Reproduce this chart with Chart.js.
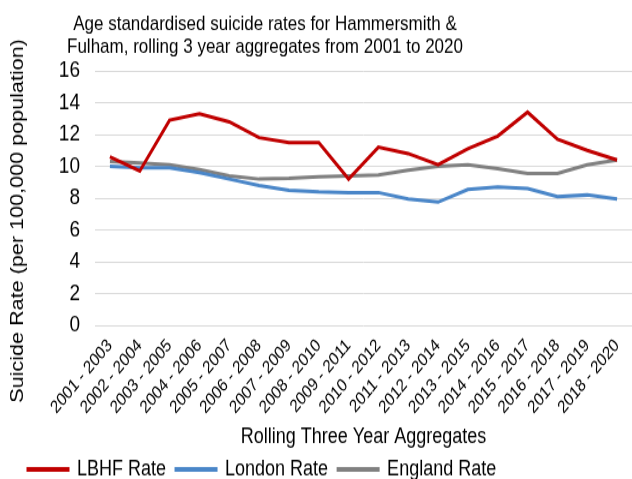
<!DOCTYPE html>
<html>
<head>
<meta charset="utf-8">
<script src="https://cdn.jsdelivr.net/npm/chart.js@4/dist/chart.umd.min.js"></script>
<style>
  html, body { margin: 0; padding: 0; background: #fff; overflow: hidden; }
  #myChart { display: block; }
</style>
</head>
<body>
<canvas id="myChart" width="632" height="399"></canvas>
<script>
const periods = [
    '2001 - 2003', '2002 - 2004', '2003 - 2005', '2004 - 2006', '2005 - 2007', '2006 - 2008',
    '2007 - 2009', '2008 - 2010', '2009 - 2011', '2010 - 2012', '2011 - 2013', '2012 - 2014',
    '2013 - 2015', '2014 - 2016', '2015 - 2017', '2016 - 2018', '2017 - 2019', '2018 - 2020'
];
const lbhfRate = [10.6, 9.7, 12.9, 13.3, 12.8, 11.8, 11.5, 11.5, 9.2, 11.2, 10.8, 10.1, 11.1, 11.9, 13.4, 11.7, 11.0, 10.4];
const londonRate = [10.0, 9.9, 9.9, 9.6, 9.2, 8.8, 8.5, 8.4, 8.35, 8.35, 7.95, 7.75, 8.55, 8.7, 8.6, 8.1, 8.2, 7.95];
const englandRate = [10.3, 10.2, 10.1, 9.8, 9.4, 9.2, 9.25, 9.35, 9.4, 9.45, 9.75, 10.0, 10.1, 9.85, 9.55, 9.55, 10.1, 10.4];
const yTicks = [0, 2, 4, 6, 8, 10, 12, 14, 16];

const font = 'Arial, "Liberation Sans", sans-serif';
const titleLines = ['Age standardised suicide rates for Hammersmith &', 'Fulham, rolling 3 year aggregates from 2001 to 2020'];
const yTitle = 'Suicide Rate (per 100,000 population)';

const series = [
    { label: 'LBHF Rate', data: lbhfRate, color: '#C00000' },
    { label: 'London Rate', data: londonRate, color: '#4A86C8' },
    { label: 'England Rate', data: englandRate, color: '#808080' },
];

// chart title and y axis title sit off-centre in the original, so draw them here
const titlesPlugin = {
    id: 'titles',
    afterDraw(chart) {
        const c = chart.ctx;
        c.save();
        c.fillStyle = '#000';
        c.textAlign = 'center';
        c.textBaseline = 'middle';
        c.font = '17px ' + font;
        titleLines.forEach((line, i) => c.fillText(line, 265, 20 + i * 19.2));
        c.translate(18, 184);
        c.rotate(-Math.PI / 2);
        c.font = '18px ' + font;
        c.fillText(yTitle, 0, 0);
        c.restore();
    }
};

const canvas = /** @type {HTMLCanvasElement} */ (document.getElementById('myChart'));
const ctx = canvas.getContext('2d');

new Chart(ctx, {
    type: 'line',
    data: {
        labels: periods,
        datasets: series.map(s => ({
            label: s.label,
            data: s.data,
            borderColor: s.color,
            backgroundColor: s.color,
            borderWidth: 3,
            pointRadius: 0,
            tension: 0,
        }))
    },
    plugins: [titlesPlugin],
    options: {
        responsive: false,
        maintainAspectRatio: false,
        devicePixelRatio: 1,
        animation: false,
        layout: { padding: { left: 18, right: -3, top: 59, bottom: -11 } },
        plugins: {
            title: { display: false },
            legend: {
                position: 'bottom',
                align: 'start',
                labels: {
                    color: '#000',
                    font: { family: font, size: 18 },
                    boxWidth: 40,
                    boxHeight: 1,
                    padding: 10,
                },
            },
            tooltip: { enabled: false },
        },
        scales: {
            x: {
                offset: true,
                grid: { display: false },
                border: { display: false },
                ticks: {
                    color: '#000',
                    font: { family: font, size: 15 },
                    maxRotation: 45,
                    minRotation: 45,
                    autoSkip: false,
                    padding: 0,
                },
                title: {
                    display: true,
                    text: 'Rolling Three Year Aggregates',
                    color: '#000',
                    font: { family: font, size: 18 },
                    padding: { top: 5, bottom: -3 },
                },
            },
            y: {
                min: 0,
                max: 16,
                afterBuildTicks: axis => { axis.ticks = yTicks.map(v => ({ value: v })); },
                afterFit: axis => { axis.width = 77; },
                grid: { color: '#d9d9d9', lineWidth: 1, drawTicks: false },
                border: { display: false },
                ticks: {
                    color: '#000',
                    font: { family: font, size: 19 },
                    padding: 15,
                },
            },
        },
    },
});

// the original export is stretched vertically; show the 632x399 drawing at 632x479
canvas.style.width = '632px';
canvas.style.height = '479px';
</script>
</body>
</html>
